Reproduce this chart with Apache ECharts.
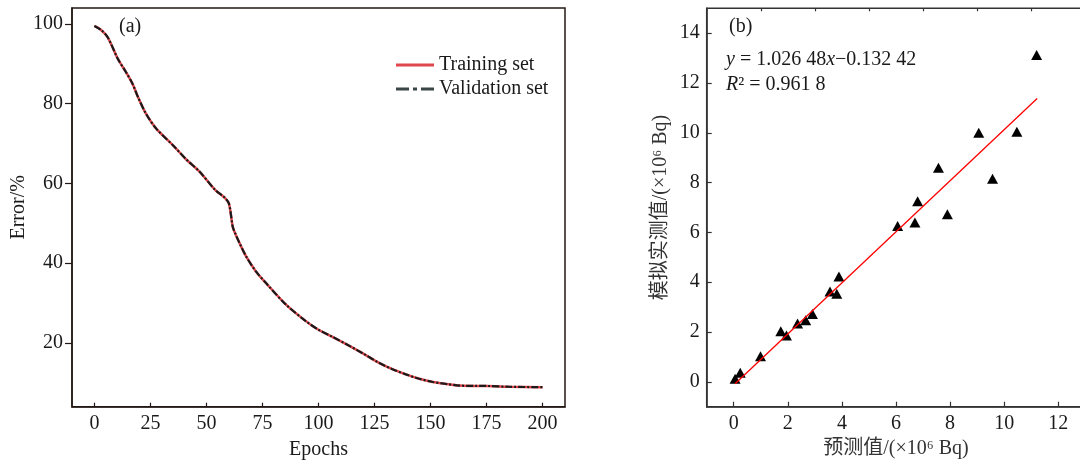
<!DOCTYPE html>
<html>
<head>
<meta charset="utf-8">
<script src="https://cdn.jsdelivr.net/npm/echarts@6/dist/echarts.min.js"></script>
<style>
html,body{margin:0;padding:0;background:#fff;}
#c{width:1080px;height:462px;}
</style>
</head>
<body>
<div id="c"></div>
<script>
// Panel (a): training curve
var epochs = [0, 3, 6, 10.5, 14, 17, 19.5, 23, 27.5, 35, 41, 47, 54, 58, 60, 61.7, 62.5, 64.8, 67.7, 72, 76.6, 85.5, 94.5, 100, 106, 114, 120, 127, 133, 139, 145, 151, 157, 163, 170, 175, 185, 200];
var trainErr = [99.5, 98.5, 96.6, 91.2, 88, 85, 81.6, 77.5, 73.8, 69.6, 66, 62.9, 58.3, 56.5, 55, 49.2, 47.9, 45, 41.7, 38, 35, 29.6, 25.4, 23.3, 21.6, 19.2, 17.3, 15, 13.4, 12.1, 11, 10.2, 9.7, 9.3, 9.2, 9.2, 9.0, 8.9];
var validErr = [99.5, 98.5, 96.6, 91.2, 88, 85, 81.6, 77.5, 73.8, 69.6, 66, 62.9, 58.3, 56.5, 55, 49.2, 47.9, 45, 41.7, 38, 35, 29.6, 25.4, 23.3, 21.6, 19.2, 17.3, 15, 13.4, 12.1, 11, 10.2, 9.7, 9.3, 9.2, 9.2, 9.0, 8.9];
var epochTicks = [0, 25, 50, 75, 100, 125, 150, 175, 200];
var errTicks = [20, 40, 60, 80, 100];

// Panel (b): predicted vs simulated
var predX = [0.05, 0.24, 0.99, 1.74, 1.95, 2.36, 2.66, 2.91, 3.56, 3.81, 3.89, 6.06, 6.7, 6.8, 7.57, 7.9, 9.06, 9.57, 10.47, 11.2];
var simY = [0.12, 0.36, 1.03, 2.03, 1.86, 2.34, 2.47, 2.72, 3.63, 3.54, 4.23, 6.26, 6.4, 7.25, 8.6, 6.73, 10.0, 8.15, 10.04, 13.12];
var fitX = [0.05, 11.22];
var fitY = [-0.08, 11.38];
var bMajorX = [0, 2, 4, 6, 8, 10, 12];
var bMinorX = [1, 3, 5, 7, 9, 11];
var bMajorY = [0, 2, 4, 6, 8, 10, 12, 14];
var bMinorY = [1, 3, 5, 7, 9, 11, 13];

function zip(a, b) { return a.map(function (v, i) { return [v, b[i]]; }); }

var SERIF = '"Liberation Serif", "Noto Sans CJK SC", serif';
var AX_A = '#231815';
var AX_B = '#333333';
var TXT = '#1a1a1a';

var chart = echarts.init(document.getElementById('c'), null, {renderer: 'canvas'});
chart.setOption({
  animation: false,
  backgroundColor: '#ffffff',
  textStyle: {fontFamily: SERIF},
  grid: [
    {left: 72, top: 8, width: 493, height: 398.7, show: true, borderColor: AX_A, borderWidth: 1.5, backgroundColor: 'transparent', outerBoundsMode: 'none', containLabel: false},
    {left: 706.7, top: 8.3, width: 378.6, height: 398.4, show: true, borderColor: AX_B, borderWidth: 1.5, backgroundColor: 'transparent', outerBoundsMode: 'none', containLabel: false}
  ],
  legend: {
    left: 391, top: 50, orient: 'vertical', itemGap: 4, itemWidth: 38, itemHeight: 3,
    textStyle: {fontFamily: SERIF, fontSize: 20, color: TXT},
    data: [
      {name: 'Training set', icon: 'rect', itemStyle: {color: '#e0474c'}},
      {name: 'Validation set', icon: 'path://M0,0h13v3h-13z M17,0h4v3h-4z M25,0h13v3h-13z', itemStyle: {color: '#3a4545'}}
    ]
  },
  xAxis: [
    {type: 'value', gridIndex: 0, min: -10, max: 210, splitLine: {show: false},
     axisLine: {onZero: false, lineStyle: {color: AX_A, width: 1.5}},
     axisTick: {inside: true, length: 4, customValues: epochTicks, lineStyle: {color: AX_A, width: 1.2}},
     axisLabel: {customValues: epochTicks, margin: 7, fontSize: 20, color: TXT, fontFamily: SERIF},
     name: 'Epochs', nameLocation: 'middle', nameGap: 33,
     nameTextStyle: {fontSize: 20, color: TXT, fontFamily: SERIF}},
    {type: 'value', gridIndex: 1, min: -1, max: 13, splitLine: {show: false},
     axisLine: {onZero: false, lineStyle: {color: AX_B, width: 1.5}},
     axisTick: {inside: true, length: 5, customValues: bMajorX, lineStyle: {color: AX_B, width: 1.2}},
     axisLabel: {customValues: bMajorX, margin: 7, fontSize: 20, color: TXT, fontFamily: SERIF},
     name: '预测值/(×10⁶ Bq)', nameLocation: 'middle', nameGap: 31,
     nameTextStyle: {fontSize: 20, color: '#333', fontFamily: SERIF}},
    {type: 'value', gridIndex: 1, min: -1, max: 13, splitLine: {show: false},
     axisLine: {show: false, onZero: false},
     axisTick: {inside: true, length: 3, customValues: bMinorX, lineStyle: {color: AX_B, width: 1.2}},
     axisLabel: {show: false}}
  ],
  yAxis: [
    {type: 'value', gridIndex: 0, min: 4, max: 104, splitLine: {show: false},
     axisLine: {onZero: false, lineStyle: {color: AX_A, width: 1.5}},
     axisTick: {inside: false, length: 7, customValues: errTicks, lineStyle: {color: AX_A, width: 1.2}},
     axisLabel: {customValues: errTicks, margin: 9, fontSize: 20, color: TXT, fontFamily: SERIF},
     name: 'Error/%', nameLocation: 'middle', nameGap: 43,
     nameTextStyle: {fontSize: 20, color: TXT, fontFamily: SERIF}},
    {type: 'value', gridIndex: 1, min: -1, max: 15, splitLine: {show: false},
     axisLine: {onZero: false, lineStyle: {color: AX_B, width: 1.5}},
     axisTick: {inside: true, length: 5, customValues: bMajorY, lineStyle: {color: AX_B, width: 1.2}},
     axisLabel: {customValues: bMajorY, margin: 7, fontSize: 20, color: TXT, fontFamily: SERIF},
     name: '模拟实测值/(×10⁶ Bq)', nameLocation: 'middle', nameGap: 36,
     nameTextStyle: {fontSize: 20, color: '#333', fontFamily: SERIF}},
    {type: 'value', gridIndex: 1, min: -1, max: 15, splitLine: {show: false},
     axisLine: {show: false, onZero: false},
     axisTick: {inside: true, length: 3, customValues: bMinorY, lineStyle: {color: AX_B, width: 1.2}},
     axisLabel: {show: false}}
  ],
  series: [
    {name: 'Training set', type: 'line', xAxisIndex: 0, yAxisIndex: 0, data: zip(epochs, trainErr),
     showSymbol: false, symbol: 'none', smooth: 0.3, lineStyle: {color: '#e0474c', width: 2.5}, itemStyle: {color: '#e0474c'}},
    {name: 'Validation set', type: 'line', xAxisIndex: 0, yAxisIndex: 0, data: zip(epochs, validErr),
     showSymbol: false, symbol: 'none', smooth: 0.3, lineStyle: {color: '#1b1b1b', width: 2.2, type: [7, 2, 2, 2]}, itemStyle: {color: '#3a4545'}},
    {name: 'fit', type: 'line', xAxisIndex: 1, yAxisIndex: 1, data: zip(fitX, fitY),
     showSymbol: false, symbol: 'none', lineStyle: {color: '#ff0000', width: 1.3}},
    {name: 'points', type: 'scatter', xAxisIndex: 1, yAxisIndex: 1, data: zip(predX, simY),
     symbol: 'triangle', symbolSize: [11, 10], itemStyle: {color: '#000000', opacity: 1}}
  ],
  graphic: [
    {type: 'text', left: 119, top: 17, style: {text: '(a)', font: '20px ' + SERIF, fill: TXT}},
    {type: 'text', left: 729, top: 17, style: {text: '(b)', font: '20px ' + SERIF, fill: TXT}},
    {type: 'text', left: 726, top: 50, style: {
      text: '{i|y} = 1.026 48{i|x}−0.132 42', font: '20px ' + SERIF, fill: TXT,
      rich: {i: {fontStyle: 'italic', fontSize: 20, fontFamily: SERIF, fill: TXT}}}},
    {type: 'text', left: 726, top: 75, style: {
      text: '{i|R}² = 0.961 8', font: '20px ' + SERIF, fill: TXT,
      rich: {i: {fontStyle: 'italic', fontSize: 20, fontFamily: SERIF, fill: TXT}}}}
  ]
});
</script>
</body>
</html>
